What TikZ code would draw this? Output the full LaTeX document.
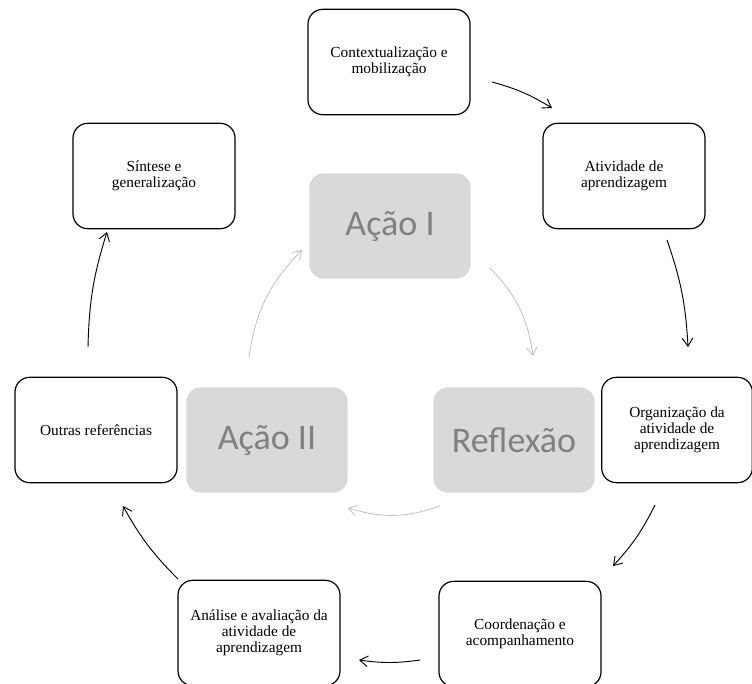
\documentclass[tikz,border=0pt]{standalone}
\usepackage{fontspec}
\setmainfont{Liberation Serif}
\newfontfamily\carlito{Carlito}
\usetikzlibrary{arrows.meta}
\definecolor{cinza}{HTML}{D9D9D9}
\definecolor{cinzatexto}{HTML}{808080}
\definecolor{cinzaseta}{HTML}{BFBFBF}

\begin{document}
\begin{tikzpicture}[x=0.75pt,y=-0.75pt,
    etapa/.style={draw, line width=0.9pt, rounded corners=11pt, minimum width=121.5pt,
      minimum height=79pt, align=center, font=\fontsize{11.5}{12}\selectfont},
    acao/.style={fill=cinza, rounded corners=11pt, minimum width=121pt, minimum height=79pt,
      text=cinzatexto, font=\carlito\fontsize{27}{30}\selectfont},
    seta/.style={-{Straight Barb[length=6pt,width=8pt]}, line width=0.7pt, bend left=8},
    setacinza/.style={-{Straight Barb[length=6pt,width=8pt]}, cinzaseta, line width=0.6pt, bend left=18}]
  \useasboundingbox (0,0) rectangle (752,684);

  % etapas do ciclo
  \node[etapa] (ctx) at (389,62) {Contextualização e\\mobilização};
  \node[etapa] (ativ) at (624,176) {Atividade de\\aprendizagem};
  \node[etapa, minimum width=113pt] (org) at (677,430) {Organização da\\atividade de\\aprendizagem};
  \node[etapa] (coord) at (520,634) {Coordenação e\\acompanhamento};
  \node[etapa] (anal) at (259,633) {Análise e avaliação da\\atividade de\\aprendizagem};
  \node[etapa] (outras) at (96,430) {Outras referências};
  \node[etapa] (sint) at (154,176) {Síntese e\\generalização};

  % centro
  \node[acao] (acaoI) at (390,226) {Ação I};
  \node[acao] (acaoII) at (267,440) {Ação II};
  \node[acao] (refl) at (514,440) {Reflexão};

  % pontas das setas
  \coordinate (c1s) at (492,82);  \coordinate (c1e) at (552,108);
  \coordinate (c2s) at (667,240); \coordinate (c2e) at (688,347);
  \coordinate (c3s) at (655,505); \coordinate (c3e) at (613,566);
  \coordinate (c4s) at (420,660); \coordinate (c4e) at (359,660);
  \coordinate (c5s) at (178,579); \coordinate (c5e) at (123,506);
  \coordinate (c6s) at (88,347);  \coordinate (c6e) at (107,232);
  \coordinate (g1s) at (490,268); \coordinate (g1e) at (533,356);
  \coordinate (g2s) at (440,506); \coordinate (g2e) at (348,508);
  \coordinate (g3s) at (249,357); \coordinate (g3e) at (302,250);

  \draw[seta] (c1s) to (c1e);
  \draw[seta] (c2s) to (c2e);
  \draw[seta] (c3s) to (c3e);
  \draw[seta] (c4s) to (c4e);
  \draw[seta] (c5s) to (c5e);
  \draw[seta] (c6s) to (c6e);

  \draw[setacinza] (g1s) to (g1e);
  \draw[setacinza] (g2s) to (g2e);
  \draw[setacinza] (g3s) to (g3e);
\end{tikzpicture}
\end{document}
